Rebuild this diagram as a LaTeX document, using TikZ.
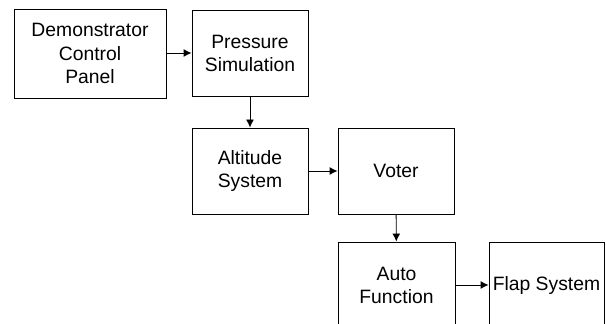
\documentclass[tikz,border=0pt]{standalone}
\usepackage{fontspec}
\setmainfont{Liberation Sans}
\usepackage{tikz}
\usetikzlibrary{arrows.meta}

\begin{document}
\begin{tikzpicture}[x=0.75pt,y=-0.75pt,
	box/.style={draw,line width=0.7pt,align=center,inner sep=0pt,
		font=\fontsize{14.5}{17.3}\selectfont},
	link/.style={-{Latex[length=6pt,width=6pt]},line width=0.7pt}]
	\useasboundingbox (0,0) rectangle (606,324);
	\clip (0,0) rectangle (606,324);

	\node[box,minimum width=152*0.75pt,minimum height=89*0.75pt] (panel) at (90,53.5) {Demonstrator\\Control\\Panel};
	\node[box,minimum width=116*0.75pt,minimum height=86*0.75pt] (pressure) at (250,53) {Pressure\\Simulation};
	\node[box,minimum width=116*0.75pt,minimum height=86*0.75pt] (altitude) at (250,171) {Altitude\\System};
	\node[box,minimum width=116*0.75pt,minimum height=86*0.75pt] (voter) at (396,171) {Voter};
	\node[box,minimum width=117*0.75pt,minimum height=86*0.75pt] (auto) at (396.5,285) {Auto\\Function};
	\node[box,minimum width=115*0.75pt,minimum height=86*0.75pt] (flap) at (546.5,285) {Flap System};

	\draw[link] (panel.east |- pressure.west) -- (pressure.west);
	\draw[link] (pressure) -- (altitude);
	\draw[link] (altitude) -- (voter);
	\draw[link] (voter) -- (auto);
	\draw[link] (auto) -- (flap);
\end{tikzpicture}
\end{document}
